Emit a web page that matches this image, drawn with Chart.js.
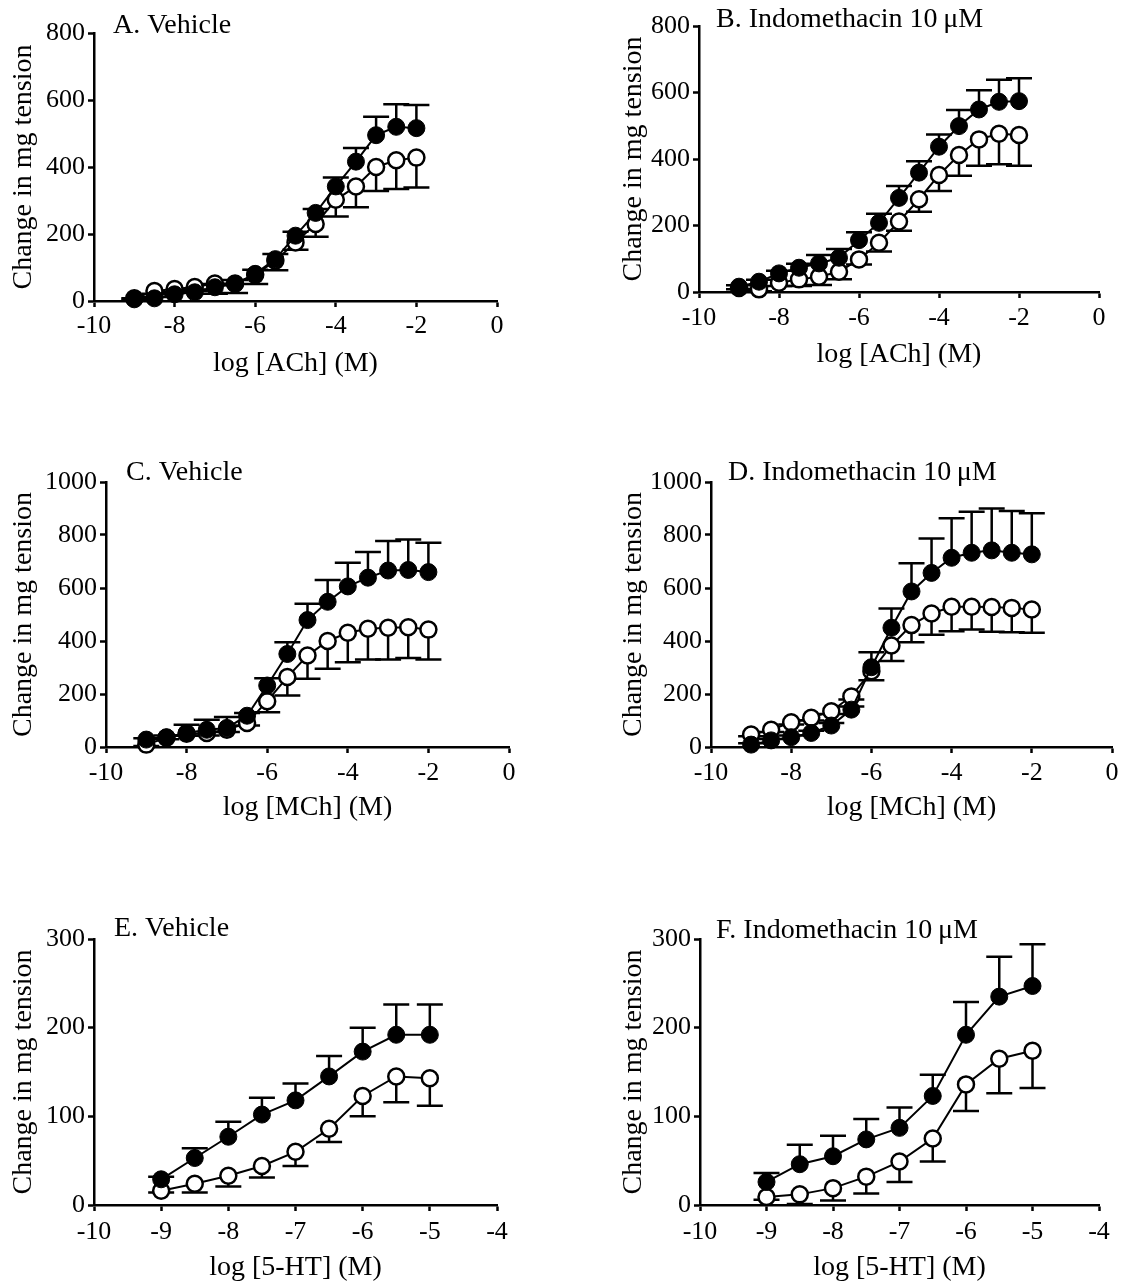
<!DOCTYPE html>
<html>
<head>
<meta charset="utf-8">
<script src="https://cdn.jsdelivr.net/npm/chart.js@4.4.0/dist/chart.umd.min.js"></script>
<style>
  body { margin: 0; background: #fff; }
  #page { position: relative; width: 1131px; height: 1282px; overflow: hidden; background: #fff; }
  #page canvas { position: absolute; }
</style>
</head>
<body>
<div id="page">
  <canvas id="panelA"></canvas>
  <canvas id="panelB"></canvas>
  <canvas id="panelC"></canvas>
  <canvas id="panelD"></canvas>
  <canvas id="panelE"></canvas>
  <canvas id="panelF"></canvas>
</div>
<script>
// x values: log molar concentration
const logCholinergic = [-9, -8.5, -8, -7.5, -7, -6.5, -6, -5.5, -5, -4.5, -4, -3.5, -3, -2.5, -2];
const log5HT = [-9, -8.5, -8, -7.5, -7, -6.5, -6, -5.5, -5];

// A. ACh, vehicle
const achVehFilled    = [5, 8, 20, 26, 41, 51, 81, 125, 195, 263, 342, 416, 495, 520, 516];
const achVehFilledErr = [3, 4, 6, 8, 10, 12, 12, 15, 12, 12, 27, 41, 55, 67, 69];
const achVehOpen      = [8, 30, 36, 42, 52, 52, 78, 120, 175, 230, 302, 342, 400, 420, 428];
const achVehOpenErr   = [4, 8, 10, 12, 30, 28, 27, 28, 22, 38, 50, 62, 72, 86, 89];

// B. ACh, indomethacin
const achIndoFilled    = [16, 31, 56, 73, 86, 103, 156, 208, 283, 359, 437, 499, 549, 572, 574];
const achIndoFilledErr = [4, 6, 8, 12, 25, 26, 24, 27, 36, 34, 37, 48, 58, 66, 69];
const achIndoOpen      = [12, 8, 28, 38, 46, 61, 98, 148, 212, 279, 352, 412, 459, 476, 472];
const achIndoOpenErr   = [4, 6, 10, 20, 25, 23, 15, 26, 28, 38, 48, 62, 79, 92, 92];

// C. MCh, vehicle
const mchVehFilled    = [28, 37, 53, 65, 72, 118, 232, 351, 479, 548, 606, 639, 666, 668, 660];
const mchVehFilledErr = [5, 6, 31, 38, 41, 10, 27, 44, 62, 82, 89, 97, 111, 115, 111];
const mchVehOpen      = [9, 35, 50, 53, 65, 91, 173, 264, 345, 400, 431, 446, 450, 452, 443];
const mchVehOpenErr   = [5, 6, 8, 10, 8, 10, 42, 70, 87, 105, 111, 116, 120, 116, 113];

// D. MCh, indomethacin
const mchIndoFilled    = [9, 25, 37, 53, 81, 141, 301, 450, 587, 657, 714, 733, 742, 733, 727];
const mchIndoFilledErr = [5, 5, 6, 8, 10, 12, 57, 73, 106, 130, 149, 155, 158, 158, 155];
const mchIndoOpen      = [47, 65, 93, 110, 135, 191, 286, 383, 460, 504, 529, 529, 528, 525, 519];
const mchIndoOpenErr   = [6, 8, 8, 10, 10, 12, 34, 58, 65, 80, 92, 86, 93, 92, 88];

// E. 5-HT, vehicle
const htVehFilled    = [29, 53, 77, 102, 118, 145, 173, 192, 192];
const htVehFilledErr = [3, 11, 17, 19, 19, 23, 27, 34, 34];
const htVehOpen      = [16, 24, 33, 44, 60, 86, 123, 145, 143];
const htVehOpenErr   = [2, 10, 12, 13, 16, 15, 23, 29, 31];

// F. 5-HT, indomethacin
const htIndoFilled    = [26, 46, 55, 74, 87, 123, 192, 235, 247];
const htIndoFilledErr = [10, 22, 23, 23, 23, 24, 37, 45, 47];
const htIndoOpen      = [9, 12, 19, 32, 49, 75, 136, 165, 174];
const htIndoOpenErr   = [3, 11, 14, 19, 23, 26, 30, 39, 42];

// tick labels
const cholXTicks = [-10, -8, -6, -4, -2, 0];
const htXTicks = [-10, -9, -8, -7, -6, -5, -4];
const achYTicks = [0, 200, 400, 600, 800];
const mchYTicks = [0, 200, 400, 600, 800, 1000];
const htYTicks = [0, 100, 200, 300];

const FONT = '"Liberation Serif", "Times New Roman", serif';
const yTitle = 'Change in mg tension';

// draws SEM bars (filled: up, open: down) behind the symbols
const errorBars = {
  id: 'errorBars',
  beforeDatasetsDraw(chart) {
    const ctx = chart.ctx;
    const yScale = chart.scales.y;
    chart.data.datasets.forEach((ds, i) => {
      if (!ds.errors) return;
      const meta = chart.getDatasetMeta(i);
      ctx.save();
      ctx.strokeStyle = '#000';
      ctx.lineWidth = 2.5;
      meta.data.forEach((pt, j) => {
        const yEnd = yScale.getPixelForValue(ds.data[j].y + ds.errorDir * ds.errors[j]);
        ctx.beginPath();
        ctx.moveTo(pt.x, pt.y);
        ctx.lineTo(pt.x, yEnd);
        ctx.moveTo(pt.x - 13, yEnd);
        ctx.lineTo(pt.x + 13, yEnd);
        ctx.stroke();
      });
      ctx.restore();
    });
  }
};

// panel heading like "A. Vehicle", placed just above the plot's top-left corner
const panelTitle = {
  id: 'panelTitle',
  afterDraw(chart, args, opts) {
    const ctx = chart.ctx;
    ctx.save();
    ctx.font = opts.size + 'px ' + FONT;
    ctx.fillStyle = '#000';
    ctx.textBaseline = 'alphabetic';
    ctx.textAlign = 'left';
    ctx.fillText(opts.text, chart.chartArea.left + opts.dx, chart.chartArea.top + opts.dy);
    ctx.restore();
  }
};

function pts(xs, ys) {
  return xs.map((x, i) => ({ x: x, y: ys[i] }));
}

function axisStyle() {
  return {
    grid: { display: true, drawOnChartArea: false, drawTicks: true, tickLength: 6, tickWidth: 2.5, tickColor: '#000', color: '#000' },
    border: { display: true, color: '#000', width: 2.5 }
  };
}

// box = canvas rect on page, plot = chart area on page
function makePanel(id, box, plot, p) {
  const canvas = document.getElementById(id);
  canvas.width = box.w;
  canvas.height = box.h;
  canvas.style.left = box.x + 'px';
  canvas.style.top = box.y + 'px';

  const tickFont = { family: FONT, size: 26, lineHeight: 1 };
  const titleFont = { family: FONT, size: 28, lineHeight: 1 };

  new Chart(canvas, {
    type: 'line',
    data: {
      datasets: [
        {
          data: pts(p.xs, p.filled), errors: p.filledErr, errorDir: 1,
          borderColor: '#000', borderWidth: 2, tension: 0, clip: false,
          pointRadius: 8.5, pointBackgroundColor: '#000', pointBorderColor: '#000', pointBorderWidth: 1
        },
        {
          data: pts(p.xs, p.open), errors: p.openErr, errorDir: -1,
          borderColor: '#000', borderWidth: 2, tension: 0, clip: false,
          pointRadius: 8, pointBackgroundColor: '#fff', pointBorderColor: '#000', pointBorderWidth: 2.5
        }
      ]
    },
    options: {
      responsive: false,
      animation: false,
      devicePixelRatio: 1,
      events: [],
      layout: { padding: { left: 0, top: plot.t - box.y, right: box.x + box.w - plot.r, bottom: 0 } },
      plugins: {
        legend: { display: false },
        tooltip: { enabled: false },
        panelTitle: { text: p.title, size: 28, dx: p.titleDx, dy: p.titleDy }
      },
      scales: {
        x: Object.assign(axisStyle(), {
          type: 'linear',
          min: p.xTicks[0],
          max: p.xTicks[p.xTicks.length - 1],
          afterBuildTicks: s => { s.ticks = p.xTicks.map(v => ({ value: v })); },
          afterFit: s => { s.height = box.y + box.h - plot.b; },
          ticks: { font: tickFont, color: '#000', padding: p.xTickY - plot.b - 6 - 13, maxRotation: 0, autoSkip: false, callback: v => String(v) },
          title: { display: true, text: p.xTitle, font: titleFont, color: '#000', padding: { top: 0, bottom: box.y + box.h - p.xTitleY - 14 } }
        }),
        y: Object.assign(axisStyle(), {
          type: 'linear',
          min: 0,
          max: p.yTicks[p.yTicks.length - 1],
          afterBuildTicks: s => { s.ticks = p.yTicks.map(v => ({ value: v })); },
          afterFit: s => { s.width = plot.l - box.x; },
          ticks: { font: tickFont, color: '#000', padding: 3, autoSkip: false, callback: v => String(v) },
          title: { display: true, text: yTitle, font: titleFont, color: '#000', padding: { top: p.yTitleX - box.x - 14, bottom: 0 } }
        })
      }
    },
    plugins: [errorBars, panelTitle]
  });
}

const colL = { x: 0, w: 565 };
const colR = { x: 565, w: 566 };
const row1 = { y: 0, h: 400 };
const row2 = { y: 430, h: 415 };
const row3 = { y: 885, h: 397 };
const box = (c, r) => ({ x: c.x, w: c.w, y: r.y, h: r.h });

makePanel('panelA', box(colL, row1), { l: 94, r: 497, t: 33, b: 301 }, {
  xs: logCholinergic, filled: achVehFilled, filledErr: achVehFilledErr, open: achVehOpen, openErr: achVehOpenErr,
  xTicks: cholXTicks, yTicks: achYTicks, title: 'A. Vehicle', titleDx: 19, titleDy: 0,
  xTitle: 'log [ACh] (M)', xTickY: 326, xTitleY: 364, yTitleX: 24
});
makePanel('panelB', box(colR, row1), { l: 699, r: 1099, t: 26, b: 292 }, {
  xs: logCholinergic, filled: achIndoFilled, filledErr: achIndoFilledErr, open: achIndoOpen, openErr: achIndoOpenErr,
  xTicks: cholXTicks, yTicks: achYTicks, title: 'B. Indomethacin 10\u2009\u03bcM', titleDx: 17, titleDy: 1,
  xTitle: 'log [ACh] (M)', xTickY: 318, xTitleY: 355, yTitleX: 634
});
makePanel('panelC', box(colL, row2), { l: 106, r: 509, t: 482, b: 747 }, {
  xs: logCholinergic, filled: mchVehFilled, filledErr: mchVehFilledErr, open: mchVehOpen, openErr: mchVehOpenErr,
  xTicks: cholXTicks, yTicks: mchYTicks, title: 'C. Vehicle', titleDx: 20, titleDy: -2,
  xTitle: 'log [MCh] (M)', xTickY: 773, xTitleY: 808, yTitleX: 24
});
makePanel('panelD', box(colR, row2), { l: 711, r: 1112, t: 482, b: 747 }, {
  xs: logCholinergic, filled: mchIndoFilled, filledErr: mchIndoFilledErr, open: mchIndoOpen, openErr: mchIndoOpenErr,
  xTicks: cholXTicks, yTicks: mchYTicks, title: 'D. Indomethacin 10\u2009\u03bcM', titleDx: 17, titleDy: -2,
  xTitle: 'log [MCh] (M)', xTickY: 773, xTitleY: 808, yTitleX: 634
});
makePanel('panelE', box(colL, row3), { l: 94, r: 497, t: 939, b: 1205 }, {
  xs: log5HT, filled: htVehFilled, filledErr: htVehFilledErr, open: htVehOpen, openErr: htVehOpenErr,
  xTicks: htXTicks, yTicks: htYTicks, title: 'E. Vehicle', titleDx: 20, titleDy: -3,
  xTitle: 'log [5-HT] (M)', xTickY: 1232, xTitleY: 1268, yTitleX: 24
});
makePanel('panelF', box(colR, row3), { l: 700, r: 1099, t: 939, b: 1205 }, {
  xs: log5HT, filled: htIndoFilled, filledErr: htIndoFilledErr, open: htIndoOpen, openErr: htIndoOpenErr,
  xTicks: htXTicks, yTicks: htYTicks, title: 'F. Indomethacin 10\u2009\u03bcM', titleDx: 16, titleDy: -1,
  xTitle: 'log [5-HT] (M)', xTickY: 1232, xTitleY: 1268, yTitleX: 634
});
</script>
</body>
</html>
